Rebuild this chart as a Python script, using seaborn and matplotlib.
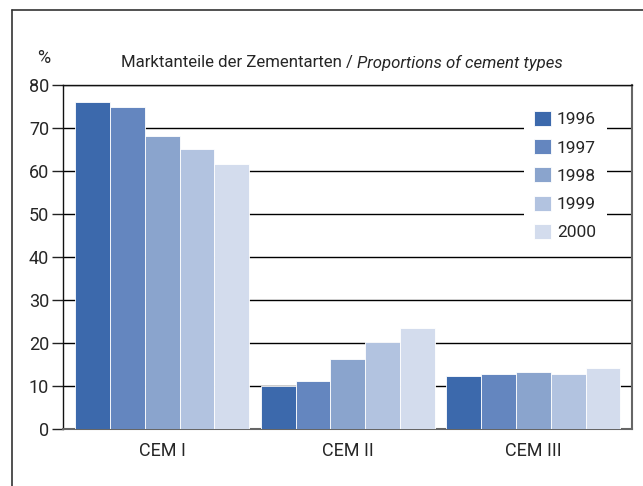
import matplotlib
matplotlib.use("Agg")
import matplotlib.pyplot as plt
from matplotlib.lines import Line2D
import seaborn as sns
import pandas as pd

categories = ["CEM I", "CEM II", "CEM III"]
years = ["1996", "1997", "1998", "1999", "2000"]
v1996 = [76.0, 10.1, 12.4]
v1997 = [74.8, 11.2, 12.9]
v1998 = [68.2, 16.3, 13.3]
v1999 = [65.0, 20.2, 12.9]
v2000 = [61.6, 23.6, 14.3]
colors = ["#3c69ac", "#6486bf", "#8aa4cd", "#b2c3e0", "#d3dced"]

series = [v1996, v1997, v1998, v1999, v2000]
rows = []
for y, vals in zip(years, series):
    for c, v in zip(categories, vals):
        rows.append({"type": c, "year": y, "value": v})
df = pd.DataFrame(rows)

sns.set_style("white")
plt.rcParams["font.family"] = ["Roboto", "DejaVu Sans"]

W, H = 643, 486
fig = plt.figure(figsize=(W / 100, H / 100), dpi=100)
ax = fig.add_axes([63 / W, 1 - 429 / H, (631.5 - 63) / W, (429 - 85) / H])

sns.barplot(data=df, x="type", y="value", hue="year", order=categories,
            hue_order=years, palette=colors, width=0.938, gap=0,
            edgecolor="white", linewidth=0.6, saturation=1, ax=ax, zorder=3)

ax.set_ylim(0, 80)
ax.set_xlim(-0.535, 2.529)
ax.set_yticks(range(0, 81, 10))
ax.set_yticklabels([str(v) for v in range(0, 81, 10)], fontsize=13)
ax.set_xticklabels(categories, fontsize=13)
ax.set_xlabel("")
ax.set_ylabel("")
ax.yaxis.grid(True, color="black", linewidth=1.0, zorder=0)
ax.set_axisbelow(True)
ax.tick_params(axis="y", direction="out", length=8, width=1, color="#222222", pad=2, left=True)
ax.tick_params(axis="x", length=0, pad=9)
for s in ["top", "left"]:
    ax.spines[s].set_color("#111111")
    ax.spines[s].set_linewidth(1.0)
for s in ["right", "bottom"]:
    ax.spines[s].set_color("#666666")
    ax.spines[s].set_linewidth(1.5)

leg = ax.legend(loc="upper left", bbox_to_anchor=(461 / 568.5, 0.955), frameon=True,
                fontsize=12.5, handlelength=0.95, handleheight=0.95, handletextpad=0.35,
                labelspacing=0.68, borderpad=0.6, borderaxespad=0, title=None)
leg.get_frame().set_facecolor("white")
leg.get_frame().set_edgecolor("none")
leg.get_frame().set_alpha(1)

part1 = "Marktanteile der Zementarten / "
part2 = "Proportions of cement types"
fs = 12.1
t1 = fig.text(121 / W, 1 - 62.5 / H, part1, fontsize=fs, ha="left", va="center")
fig.canvas.draw()
w1 = t1.get_window_extent().width
t2 = fig.text(121 / W + w1 / W, 1 - 62.5 / H, part2, fontsize=fs, style="italic",
              ha="left", va="center")
fig.text(37 / W, 1 - 58 / H, "%", fontsize=13, ha="left", va="center")

fig.add_artist(Line2D([12 / W, 1.0], [1 - 10.5 / H, 1 - 10.5 / H],
                      color="#333333", linewidth=1.2, transform=fig.transFigure))
fig.add_artist(Line2D([12 / W, 12 / W], [0, 1 - 10.5 / H],
                      color="#333333", linewidth=1.2, transform=fig.transFigure))

fig.savefig("out.png", dpi=100)
